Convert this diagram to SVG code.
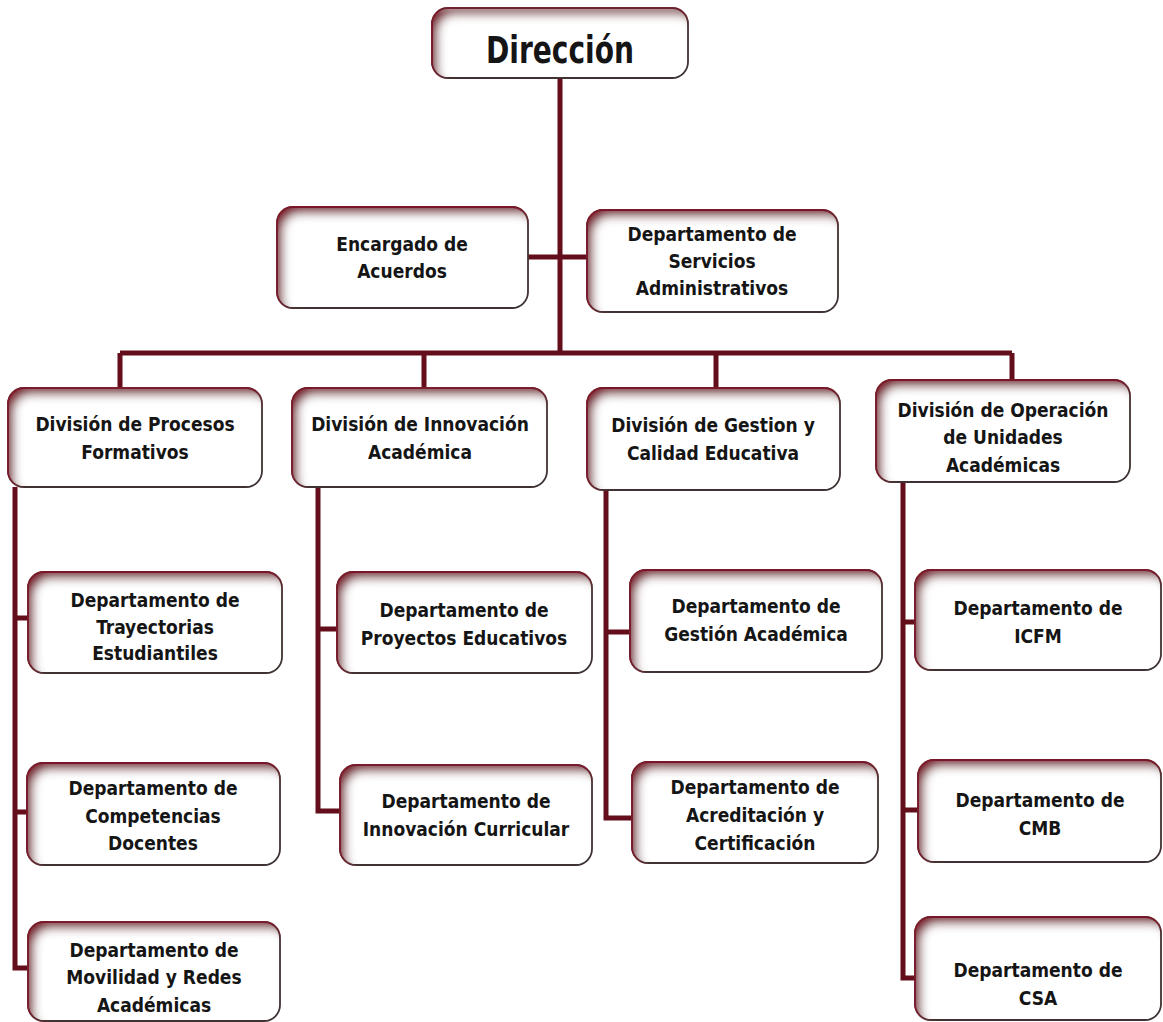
<svg xmlns="http://www.w3.org/2000/svg" width="1163" height="1022" viewBox="0 0 1163 1022">
<defs>
<filter id="inner" x="-10%" y="-15%" width="120%" height="130%">
<feComponentTransfer in="SourceAlpha" result="inv"><feFuncA type="table" tableValues="1 0"/></feComponentTransfer>
<feOffset in="inv" dx="7" dy="8" result="off"/>
<feGaussianBlur in="off" stdDeviation="5" result="blur"/>
<feFlood flood-color="#7e1a2c" flood-opacity="1" result="col"/>
<feComposite in="col" in2="blur" operator="in" result="shadow"/>
<feComposite in="shadow" in2="SourceAlpha" operator="in" result="ishadow"/>
<feMerge><feMergeNode in="SourceGraphic"/><feMergeNode in="ishadow"/></feMerge>
</filter>
</defs>
<style>
.box{fill:#fff;stroke:#3f3636;stroke-width:1.8;filter:url(#inner)}
.t{font-family:"DejaVu Sans Condensed","DejaVu Sans",sans-serif;font-weight:bold;font-size:19px;fill:#151515;text-anchor:middle}
.big{font-family:"DejaVu Sans Condensed","DejaVu Sans",sans-serif;font-weight:bold;font-size:37px;fill:#151515;text-anchor:middle}
.c{fill:none;stroke:#640d1b;stroke-width:5}
</style>
<rect width="1163" height="1022" fill="#fff"/>
<g id="connectors">
<path class="c" d="M560 78V353M528 257H587M120 353H1012M120 353V388M424 353V388M716 353V388M1012 353V380"/>
<path class="c" d="M15 487V968H28M15 618H28M15 812H28"/>
<path class="c" d="M318 487V811H340M318 629H337"/>
<path class="c" d="M606 490V818H632M606 632H630"/>
<path class="c" d="M903 482V978H915M903 622H915M903 810H918"/>
</g>
<g id="direccion"><rect class="box" x="432" y="8" width="256" height="70" rx="16"/><text class="big" x="560" y="63" textLength="148" lengthAdjust="spacingAndGlyphs">Dirección</text></g>
<g id="encargado"><rect class="box" x="277" y="207" width="251" height="101" rx="16"/><text class="t" x="402" y="251">Encargado de</text><text class="t" x="402" y="278">Acuerdos</text></g>
<g id="servicios"><rect class="box" x="587" y="210" width="251" height="102" rx="16"/><text class="t" x="712" y="241">Departamento de</text><text class="t" x="712" y="268">Servicios</text><text class="t" x="712" y="295">Administrativos</text></g>
<g id="div1"><rect class="box" x="8" y="388" width="254" height="99" rx="16"/><text class="t" x="135" y="431">División de Procesos</text><text class="t" x="135" y="459">Formativos</text></g>
<g id="div2"><rect class="box" x="292" y="388" width="255" height="99" rx="16"/><text class="t" x="420" y="431">División de Innovación</text><text class="t" x="420" y="459">Académica</text></g>
<g id="div3"><rect class="box" x="587" y="388" width="253" height="102" rx="16"/><text class="t" x="713" y="432">División de Gestion y</text><text class="t" x="713" y="460">Calidad Educativa</text></g>
<g id="div4"><rect class="box" x="876" y="380" width="254" height="102" rx="16"/><text class="t" x="1003" y="417">División de Operación</text><text class="t" x="1003" y="444">de Unidades</text><text class="t" x="1003" y="472">Académicas</text></g>
<g id="trayectorias"><rect class="box" x="28" y="572" width="254" height="101" rx="16"/><text class="t" x="155" y="607">Departamento de</text><text class="t" x="155" y="634">Trayectorias</text><text class="t" x="155" y="660">Estudiantiles</text></g>
<g id="competencias"><rect class="box" x="27" y="763" width="253" height="102" rx="16"/><text class="t" x="153" y="795">Departamento de</text><text class="t" x="153" y="823">Competencias</text><text class="t" x="153" y="850">Docentes</text></g>
<g id="movilidad"><rect class="box" x="28" y="922" width="252" height="99" rx="16"/><text class="t" x="154" y="957">Departamento de</text><text class="t" x="154" y="984">Movilidad y Redes</text><text class="t" x="154" y="1012">Académicas</text></g>
<g id="proyectos"><rect class="box" x="337" y="572" width="255" height="101" rx="16"/><text class="t" x="464" y="617">Departamento de</text><text class="t" x="464" y="645">Proyectos Educativos</text></g>
<g id="curricular"><rect class="box" x="340" y="765" width="252" height="100" rx="16"/><text class="t" x="466" y="808">Departamento de</text><text class="t" x="466" y="836">Innovación Curricular</text></g>
<g id="gestion"><rect class="box" x="630" y="570" width="252" height="102" rx="16"/><text class="t" x="756" y="613">Departamento de</text><text class="t" x="756" y="641">Gestión Académica</text></g>
<g id="acreditacion"><rect class="box" x="632" y="762" width="246" height="101" rx="16"/><text class="t" x="755" y="794">Departamento de</text><text class="t" x="755" y="822">Acreditación y</text><text class="t" x="755" y="850">Certificación</text></g>
<g id="icfm"><rect class="box" x="915" y="570" width="246" height="100" rx="16"/><text class="t" x="1038" y="615">Departamento de</text><text class="t" x="1038" y="643">ICFM</text></g>
<g id="cmb"><rect class="box" x="918" y="760" width="243" height="102" rx="16"/><text class="t" x="1040" y="807">Departamento de</text><text class="t" x="1040" y="835">CMB</text></g>
<g id="csa"><rect class="box" x="915" y="917" width="246" height="103" rx="16"/><text class="t" x="1038" y="977">Departamento de</text><text class="t" x="1038" y="1005">CSA</text></g>
</svg>
